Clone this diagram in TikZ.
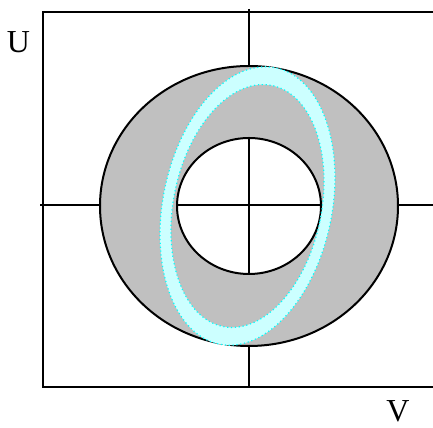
\documentclass[tikz,border=0pt]{standalone}
\usepackage{fontspec}
\setmainfont{Liberation Serif}
\usepackage{tikz}
\usetikzlibrary{positioning}
\usepackage{xcolor}
\definecolor{ringgray}{RGB}{192,192,192}
\definecolor{softcyan}{RGB}{204,255,255}
\definecolor{edgecyan}{RGB}{0,255,255}
\tikzset{
  frameline/.style={draw=black, line width=1.5pt},
  annulus/.style={fill=ringgray, even odd rule},
  orbitfill/.style={fill=softcyan, even odd rule},
  orbitedge/.style={draw=edgecyan, dotted, line width=0.9pt},
  axislabel/.style={font=\fontsize{24pt}{28pt}\selectfont, inner sep=0pt, anchor=base},
}

\begin{document}
\begin{tikzpicture}[x=0.75pt, y=0.75pt]
\useasboundingbox (0,0) rectangle (433,428);
\coordinate (o) at (249,222);
\coordinate (c) at (247.5,222);
% frame and axes
\draw[frameline] (433,416) -- (43,416) -- (43,41) -- (433,41);
\draw[frameline] (249,419) -- (249,41);
\draw[frameline] (40,223) -- (433,223);
% gray annulus
\fill[annulus] (o) ellipse [x radius=149, y radius=140]
               (o) ellipse [x radius=72, y radius=68];
\draw[frameline] (o) ellipse [x radius=149, y radius=140];
\draw[frameline] (o) ellipse [x radius=72, y radius=68];
% tilted band
\begin{scope}[rotate around={-11.5:(c)}]
\fill[orbitfill] (c) ellipse [x radius=84.5, y radius=141]
                 (c) ellipse [x radius=74, y radius=123];
\draw[orbitedge] (c) ellipse [x radius=84.5, y radius=141];
\draw[orbitedge] (c) ellipse [x radius=74, y radius=123];
\end{scope}
\node[axislabel] (ulabel) at (18.5,375) {U};
\node[axislabel] (vlabel) at (398,6) {V};
\end{tikzpicture}
\end{document}
